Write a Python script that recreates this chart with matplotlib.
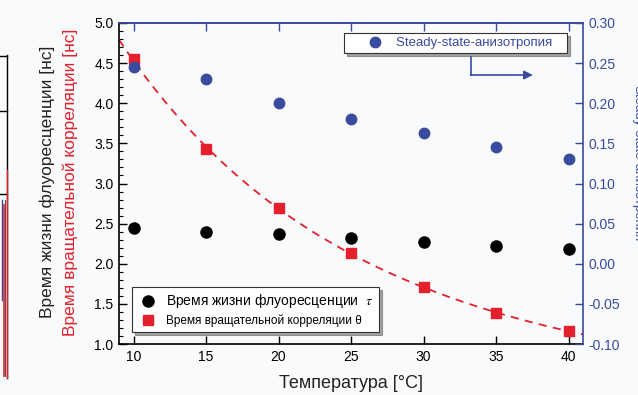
import numpy as np
import matplotlib
matplotlib.use("Agg")
import matplotlib.pyplot as plt
from matplotlib.lines import Line2D
from matplotlib.ticker import MultipleLocator

plt.rcParams['font.family'] = ['Liberation Sans', 'DejaVu Sans']
plt.rcParams['mathtext.fontset'] = 'stix'

# Measurements
temperature = [10, 15, 20, 25, 30, 35, 40]
lifetime_tau = [2.44, 2.40, 2.37, 2.32, 2.27, 2.22, 2.18]
rot_corr_theta = [4.55, 3.43, 2.69, 2.13, 1.71, 1.39, 1.16]
anisotropy = [0.245, 0.230, 0.200, 0.180, 0.163, 0.145, 0.130]

RED = '#e3202b'
BLUE = '#3a4a9e'
BG = '#f8fafb'

fig = plt.figure(figsize=(6.38, 3.95), dpi=100, facecolor=BG)
ax = fig.add_axes([119/638, 1-344/395, (583-119)/638, (344-23)/395])
ax.set_facecolor(BG)

# Fit of the rotational correlation time (quadratic in log space)
coef = np.polyfit(temperature, np.log(rot_corr_theta), 2)
tfit = np.linspace(9, 41, 200)
ax.plot(tfit, np.exp(np.polyval(coef, tfit)), color=RED, lw=1.3,
        ls=(0, (4.5, 3.5)), zorder=2)

l1, = ax.plot(temperature, lifetime_tau, 'o', color='black', ms=8, zorder=3,
              label=r'Время жизни флуоресценции  $\tau$')
l2, = ax.plot(temperature, rot_corr_theta, 's', color=RED, ms=7, zorder=3,
              label='Время вращательной корреляции θ')

ax.set_xlim(9, 41)
ax.set_ylim(1.0, 5.0)
ax.xaxis.set_major_locator(MultipleLocator(5))
ax.yaxis.set_major_locator(MultipleLocator(0.5))
ax.yaxis.set_minor_locator(MultipleLocator(0.1))
ax.yaxis.set_major_formatter(plt.FormatStrFormatter('%.1f'))
ax.tick_params(axis='both', which='both', direction='in', labelsize=10, pad=4)
ax.tick_params(axis='y', which='major', length=6, width=1)
ax.tick_params(axis='y', which='minor', length=3, width=0.8)
ax.tick_params(axis='x', which='major', length=6, width=1, color='black')
for side in ('left', 'bottom'):
    ax.spines[side].set_color('black')
    ax.spines[side].set_linewidth(1.2)
ax.spines['top'].set_color(BLUE)
ax.spines['top'].set_linewidth(1.2)
ax.spines['right'].set_visible(False)

# Blue ticks along the top edge
top = ax.secondary_xaxis('top')
top.tick_params(direction='in', length=6, color=BLUE, labeltop=False, width=1)
top.spines['top'].set_color(BLUE)
top.spines['top'].set_linewidth(1.2)

ax.set_xlabel('Температура [°C]', fontsize=13, color='#222222', labelpad=8)

# Right axis: anisotropy
ax2 = ax.twinx()
l3, = ax2.plot(temperature, anisotropy, 'o', color=BLUE, ms=7.5, zorder=3,
               label='Steady-state-анизотропия   ')
ax2.set_ylim(-0.10, 0.30)
ax2.yaxis.set_major_locator(MultipleLocator(0.05))
ax2.yaxis.set_major_formatter(plt.FormatStrFormatter('%.2f'))
ax2.tick_params(axis='y', direction='in', length=6, width=1, color=BLUE,
                labelcolor=BLUE, labelsize=10, pad=4)
for side in ('left', 'bottom', 'top'):
    ax2.spines[side].set_visible(False)
ax2.spines['right'].set_color(BLUE)
ax2.spines['right'].set_linewidth(1.2)

leg1 = ax2.legend(handles=[l1, l2], loc='lower left', bbox_to_anchor=(0.028, 0.037),
                  frameon=True, fancybox=False, shadow=True, fontsize=8.5,
                  handlelength=1.8, handletextpad=0.65, borderpad=0.45,
                  labelspacing=0.35, borderaxespad=0)
leg1.get_frame().set_edgecolor('#333333')
leg1.get_frame().set_linewidth(0.8)
leg1.get_texts()[0].set_fontsize(10)
ax2.add_artist(leg1)

leg2 = ax2.legend(handles=[l3], loc='upper right', bbox_to_anchor=(0.9655, 0.969),
                  frameon=True, fancybox=False, shadow=True, fontsize=9.5,
                  handlelength=4.1, handletextpad=-0.5, borderpad=0.3,
                  borderaxespad=0)
leg2.get_frame().set_edgecolor('#333333')
leg2.get_frame().set_linewidth(0.8)
for txt in leg2.get_texts():
    txt.set_color(BLUE)

# Arrow pointing towards the right axis
ax2.plot([0.7586, 0.7586], [0.893, 0.838], transform=ax2.transAxes,
         color=BLUE, lw=1.2, clip_on=False)
ax2.annotate('', xy=(0.892, 0.838), xytext=(0.7575, 0.838),
             xycoords='axes fraction', textcoords='axes fraction',
             arrowprops=dict(arrowstyle='-|>', color=BLUE, lw=1.2,
                             mutation_scale=13, shrinkA=0, shrinkB=0))

# Axis titles
fig.text(47/638, 1-182/395, 'Время жизни флуоресценции [нс]', rotation=90,
         ha='center', va='center', fontsize=12.5, color='#222222')
fig.text(70/638, 1-182/395, 'Время вращательной корреляции [нс]', rotation=90,
         ha='center', va='center', fontsize=12.5, color=RED)
fig.text(631/638, 1-163/395, 'Steady-state-анизотропия', rotation=270,
         ha='left', va='center', fontsize=9.5, color=BLUE)

# Edge of the neighbouring panel
edge = [Line2D([7/638, 7/638], [1-55/395, 1-378/395], color='black', lw=1),
        Line2D([0, 7/638], [1-56/395, 1-56/395], color='black', lw=1),
        Line2D([0, 7/638], [1-111/395, 1-111/395], color='black', lw=1),
        Line2D([0, 7/638], [1-194/395, 1-194/395], color='black', lw=1),
        Line2D([5/638, 5/638], [1-200/395, 1-376/395], color='#555555', lw=0.8),
        Line2D([1.5/638, 1.5/638], [1-200/395, 1-300/395], color=BLUE, lw=1),
        Line2D([4/638, 4/638], [1-205/395, 1-376/395], color=RED, lw=1.2),
        Line2D([6.5/638, 6.5/638], [1-170/395, 1-378/395], color=RED, lw=1)]
for ln in edge:
    fig.add_artist(ln)

fig.savefig('out.png', dpi=100, facecolor=BG)
